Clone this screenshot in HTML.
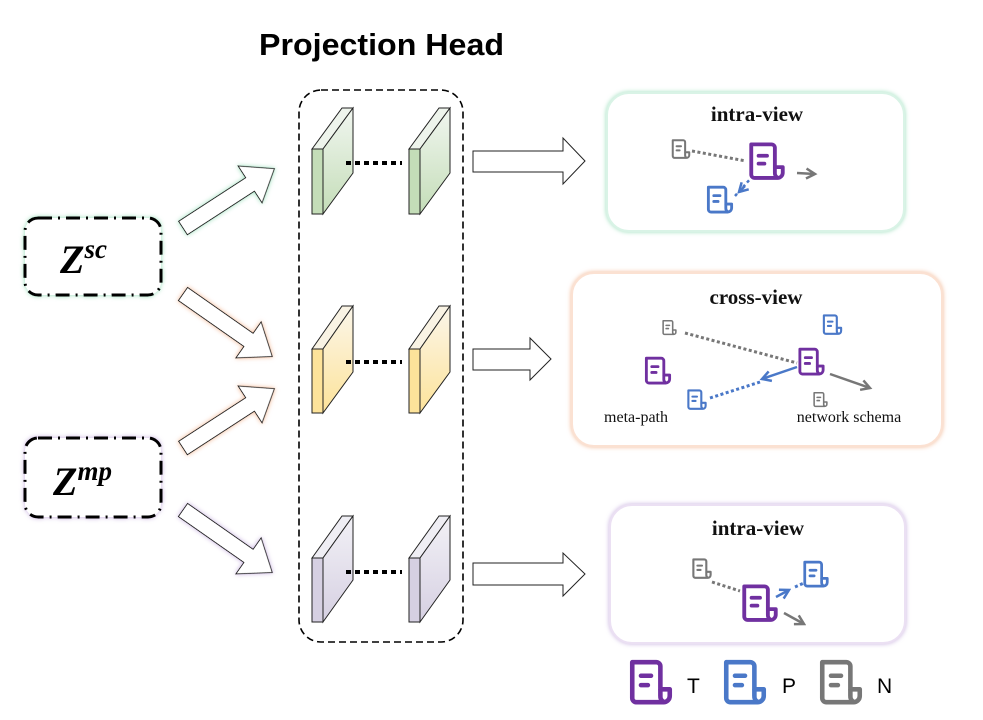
<!DOCTYPE html>
<html><head><meta charset="utf-8"><style>
html,body{margin:0;padding:0;background:#fff;}
svg{display:block;}
</style></head><body>
<svg width="983" height="720" viewBox="0 0 983 720" xmlns="http://www.w3.org/2000/svg">
<defs>
<symbol id="doc" viewBox="0 0 24 24">
<path d="M3 2.5h11.5a2 2 0 0 1 2 2v11h4.5v3.2a3 3 0 0 1-3 3H5a2 2 0 0 1-2-2z" fill="#fff" stroke="currentColor" stroke-width="2.2" stroke-linejoin="round"/>
<path d="M16.5 15.5v3.2a3 3 0 0 0 1.5 2.8" fill="none" stroke="currentColor" stroke-width="2.2"/>
<path d="M7.2 9h4.8M7.2 13.5h3.3" stroke="currentColor" stroke-width="2.2" stroke-linecap="round"/>
</symbol>
<linearGradient id="gG" x1="0" y1="0" x2="0" y2="1"><stop offset="0" stop-color="#f1f6f0"/><stop offset="1" stop-color="#c4ddb8"/></linearGradient>
<linearGradient id="gY" x1="0" y1="0" x2="0" y2="1"><stop offset="0" stop-color="#fbf6ea"/><stop offset="1" stop-color="#fde39a"/></linearGradient>
<linearGradient id="gP" x1="0" y1="0" x2="0" y2="1"><stop offset="0" stop-color="#f2f1f6"/><stop offset="1" stop-color="#d6d0e2"/></linearGradient>
<filter id="glowG" x="-20%" y="-20%" width="140%" height="140%"><feDropShadow dx="0" dy="0" stdDeviation="2.5" flood-color="#9de0bd"/></filter>
<filter id="glowO" x="-20%" y="-20%" width="140%" height="140%"><feDropShadow dx="0" dy="0" stdDeviation="2.5" flood-color="#f3b996"/></filter>
<filter id="glowP" x="-20%" y="-20%" width="140%" height="140%"><feDropShadow dx="0" dy="0" stdDeviation="2.5" flood-color="#c9b2e0"/></filter>
<marker id="ag" viewBox="0 0 10 10" refX="8" refY="5" markerWidth="5" markerHeight="5" orient="auto"><path d="M1 1L8 5L1 9" fill="none" stroke="#777" stroke-width="2"/></marker>
<marker id="ab" viewBox="0 0 10 10" refX="8" refY="5" markerWidth="5" markerHeight="5" orient="auto"><path d="M1 1L8 5L1 9" fill="none" stroke="#4a78c8" stroke-width="2"/></marker>
</defs>

<text x="259" y="55" font-family="Liberation Sans, sans-serif" font-weight="bold" font-size="31" textLength="245" lengthAdjust="spacingAndGlyphs" fill="#000">Projection Head</text>

<!-- Z boxes -->
<rect x="25" y="218" width="136" height="77" rx="13" fill="#fff" stroke="#000" stroke-width="3" stroke-dasharray="14 6 2 6" filter="url(#glowG)"/>
<text x="60" y="273" font-family="Liberation Serif, serif" font-weight="bold" font-style="italic" font-size="40">Z<tspan font-size="27" dy="-15">sc</tspan></text>
<rect x="25" y="438" width="136" height="79" rx="13" fill="#fff" stroke="#000" stroke-width="3" stroke-dasharray="14 6 2 6" filter="url(#glowP)"/>
<text x="53" y="495" font-family="Liberation Serif, serif" font-weight="bold" font-style="italic" font-size="40">Z<tspan font-size="27" dy="-15">mp</tspan></text>

<!-- diagonal block arrows -->
<g stroke="#222" stroke-width="1" fill="#fff">
<path transform="translate(183,228) rotate(-33)" d="M0 -8H80V-22L109 0L80 22V8H0Z" filter="url(#glowG)"/>
<path transform="translate(183,294) rotate(35)" d="M0 -8H80V-22L109 0L80 22V8H0Z" filter="url(#glowO)"/>
<path transform="translate(183,448) rotate(-33)" d="M0 -8H80V-22L109 0L80 22V8H0Z" filter="url(#glowO)"/>
<path transform="translate(183,510) rotate(35)" d="M0 -8H80V-22L109 0L80 22V8H0Z" filter="url(#glowP)"/>
</g>

<!-- dashed projection box -->
<rect x="299" y="90" width="164" height="552" rx="22" fill="none" stroke="#000" stroke-width="1.6" stroke-dasharray="7 4"/>

<!-- layers -->
<g stroke="#222" stroke-width="1">
<g id="lg">
<path d="M312 149L342 108H353L323 149Z" fill="#eef4ec"/>
<path d="M323 149L353 108V173L323 214Z" fill="url(#gG)"/>
<rect x="312" y="149" width="11" height="65" fill="#c4ddb8"/>
</g>
<use href="#lg" x="97"/>
<g id="ly">
<path d="M312 349L342 306H353L323 349Z" fill="#f9f3e4"/>
<path d="M323 349L353 306V372L323 413Z" fill="url(#gY)"/>
<rect x="312" y="349" width="11" height="64" fill="#fde39a"/>
</g>
<use href="#ly" x="97"/>
<g id="lp">
<path d="M312 558L342 516H353L323 558Z" fill="#efeef4"/>
<path d="M323 558L353 516V580L323 622Z" fill="url(#gP)"/>
<rect x="312" y="558" width="11" height="64" fill="#d6d0e2"/>
</g>
<use href="#lp" x="97"/>
</g>
<g stroke="#000" stroke-width="4" stroke-dasharray="5 4">
<line x1="346" y1="163" x2="402" y2="163"/>
<line x1="346" y1="362" x2="402" y2="362"/>
<line x1="346" y1="572" x2="402" y2="572"/>
</g>

<!-- right block arrows -->
<g stroke="#222" stroke-width="1" fill="#fff">
<path d="M473 151H563V138L585 161L563 184V172H473Z"/>
<path d="M473 349H530V338L551 359L530 380V370H473Z"/>
<path d="M473 563H563V553L585 574L563 596V585H473Z"/>
</g>

<!-- panels -->
<rect x="607" y="93" width="297" height="138" rx="22" fill="#fff" stroke="#d9f3e6" stroke-width="2" filter="url(#glowG)"/>
<rect x="572" y="273" width="370" height="173" rx="22" fill="#fff" stroke="#fbe1d2" stroke-width="2" filter="url(#glowO)"/>
<rect x="610" y="505" width="295" height="138" rx="22" fill="#fff" stroke="#ebe0f3" stroke-width="2" filter="url(#glowP)"/>

<g font-family="Liberation Serif, serif" font-weight="bold" font-size="21" text-anchor="middle" fill="#111">
<text x="757" y="121">intra-view</text>
<text x="756" y="304">cross-view</text>
<text x="758" y="535">intra-view</text>
</g>

<!-- intra green -->
<line x1="692" y1="151" x2="746" y2="161" stroke="#777" stroke-width="3" stroke-dasharray="3 2.5"/>
<line x1="797" y1="173" x2="815" y2="174" stroke="#777" stroke-width="2.5" marker-end="url(#ag)"/>
<line x1="735" y1="196" x2="752" y2="177" stroke="#4a78c8" stroke-width="2.5" stroke-dasharray="3 3"/>
<line x1="745" y1="186" x2="739" y2="192" stroke="#4a78c8" stroke-width="2.5" marker-end="url(#ab)"/>
<use href="#doc" x="670" y="138" width="22" height="22" style="color:#777"/>
<use href="#doc" x="745" y="140" width="44" height="42" style="color:#7030a0"/>
<use href="#doc" x="704" y="184" width="32" height="31" style="color:#4a78c8"/>

<!-- cross -->
<line x1="685" y1="333" x2="797" y2="363" stroke="#777" stroke-width="3" stroke-dasharray="3 2.5"/>
<line x1="797" y1="367" x2="762" y2="379" stroke="#4a78c8" stroke-width="2.5" marker-end="url(#ab)"/>
<line x1="710" y1="398" x2="760" y2="382" stroke="#4a78c8" stroke-width="3" stroke-dasharray="3 2.5"/>
<line x1="830" y1="374" x2="870" y2="388" stroke="#777" stroke-width="2.5" marker-end="url(#ag)"/>
<use href="#doc" x="661" y="319" width="17" height="17" style="color:#777"/>
<use href="#doc" x="821" y="313" width="23" height="23" style="color:#4a78c8"/>
<use href="#doc" x="642" y="355" width="32" height="31" style="color:#7030a0"/>
<use href="#doc" x="795" y="346" width="33" height="31" style="color:#7030a0"/>
<use href="#doc" x="685" y="388" width="24" height="23" style="color:#4a78c8"/>
<use href="#doc" x="812" y="391" width="17" height="17" style="color:#777"/>
<g font-family="Liberation Serif, serif" font-size="16" fill="#111" text-anchor="middle">
<text x="636" y="422">meta-path</text>
<text x="849" y="422">network schema</text>
</g>

<!-- intra purple -->
<line x1="712" y1="582" x2="740" y2="591" stroke="#777" stroke-width="3" stroke-dasharray="3 2.5"/>
<line x1="795" y1="587" x2="804" y2="583" stroke="#4a78c8" stroke-width="3" stroke-dasharray="3 2.5"/>
<line x1="776" y1="597" x2="789" y2="590" stroke="#4a78c8" stroke-width="2.5" marker-end="url(#ab)"/>
<line x1="784" y1="613" x2="804" y2="624" stroke="#777" stroke-width="2.5" marker-end="url(#ag)"/>
<use href="#doc" x="690" y="557" width="24" height="23" style="color:#777"/>
<use href="#doc" x="738" y="582" width="44" height="42" style="color:#7030a0"/>
<use href="#doc" x="800" y="559" width="32" height="30" style="color:#4a78c8"/>

<!-- legend -->
<use href="#doc" x="626" y="657" width="50" height="50" style="color:#7030a0"/>
<use href="#doc" x="720" y="657" width="50" height="50" style="color:#4a78c8"/>
<use href="#doc" x="816" y="657" width="50" height="50" style="color:#777"/>
<g font-family="Liberation Sans, sans-serif" font-size="21" fill="#000">
<text x="687" y="693">T</text>
<text x="782" y="693">P</text>
<text x="877" y="693">N</text>
</g>
</svg>
</body></html>
